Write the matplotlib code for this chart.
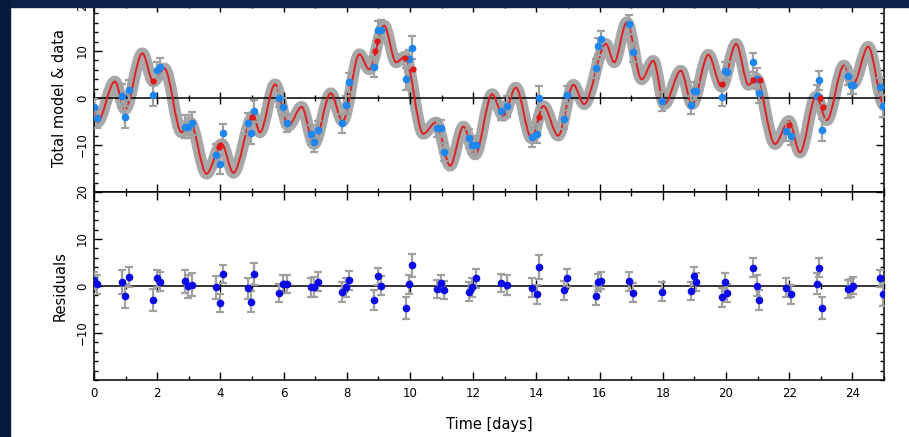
import matplotlib
matplotlib.use("Agg")
import matplotlib.pyplot as plt
from matplotlib.path import Path
from matplotlib.patches import PathPatch, Rectangle
from matplotlib.ticker import MultipleLocator

# model curve, read at its turning points (day, value)
model_t = [0.0, 0.1, 0.66, 0.98, 1.53, 1.88, 2.23, 2.77, 3.04, 3.56, 4.04, 4.41, 5.04, 5.25,
           5.73, 6.15, 6.57, 6.96, 7.49, 7.87, 8.4, 8.71, 9.18, 9.56, 9.84, 10.42, 10.82,
           11.27, 11.69, 12.06, 12.6, 12.95, 13.35, 13.85, 14.22, 14.69, 15.17, 15.51,
           16.2, 16.46, 16.86, 17.33, 17.7, 18.05, 18.57, 18.93, 19.44, 19.86, 20.32, 20.71,
           20.95, 21.55, 21.99, 22.34, 22.85, 23.19, 23.73, 24.03, 24.5, 25.0]
model_v = [-3.0, -5.2, 3.5, -2.4, 9.5, 3.5, 6.3, -7.3, -5.2, -16.1, -9.8, -15.9, -3.8, -7.3,
           2.9, -5.9, -1.9, -9.8, 1.0, -4.9, 9.3, 6.1, 15.4, 7.6, 8.8, -7.6, -5.2,
           -14.4, -6.1, -12.0, 0.8, -3.8, 2.2, -8.6, -1.7, -8.0, 2.8, -1.3,
           11.5, 7.6, 16.1, 4.0, 7.9, -1.3, 5.8, -1.3, 9.2, 2.4, 11.5, 2.8,
           4.2, -9.8, -4.9, -11.6, 0.3, -4.7, 6.9, 3.1, 10.9, -1.5]

# model evaluated at some of the observation times (red dots)
red_t = [1.87, 3.97, 4.0, 4.99, 8.89, 8.97, 9.84, 10.08, 14.09, 19.86, 20.84, 21.08, 22.0, 22.97, 23.06]
red_v = [3.7, -10.5, -9.9, -4.0, 9.9, 12.2, 8.6, 6.1, -4.1, 2.9, 3.8, 3.8, -5.7, 0.0, -2.0]

# observations
obs_t = [0.0, 0.08, 0.88, 0.98, 1.11, 1.86, 1.98, 2.09, 2.87, 2.99, 3.09, 3.85, 3.99, 4.07,
         4.88, 4.97, 5.07, 5.86, 5.97, 6.1, 6.86, 6.96, 7.09, 7.86, 7.96, 8.07, 8.86, 8.98,
         9.08, 9.86, 9.97, 10.07, 10.86, 10.97, 11.09, 11.87, 11.97, 12.08, 12.87, 13.08,
         13.87, 14.01, 14.08, 14.87, 14.96, 15.89, 15.96, 16.04, 16.94, 17.05, 17.96, 18.89,
         18.99, 19.05, 19.88, 19.97, 20.04, 20.86, 20.97, 21.04, 21.89, 22.05, 22.87, 22.95,
         23.03, 23.87, 23.96, 24.03, 24.87, 24.96]
obs_v = [-2.0, -4.3, 0.5, -4.0, 1.7, 0.6, 5.9, 6.5, -6.1, -6.1, -5.4, -12.2, -14.1, -7.4,
         -5.4, -7.4, -2.7, 0.1, -1.9, -5.4, -7.7, -9.3, -6.8, -5.4, -1.5, 3.3, 6.6, 14.5,
         14.5, 4.0, 8.3, 10.7, -6.4, -6.4, -11.4, -8.6, -10.0, -10.0, -2.7, -1.8,
         -8.4, -7.6, 0.0, -4.5, 0.6, 6.3, 11.0, 12.5, 15.7, 9.7, -0.7, -1.5,
         1.5, 1.4, 0.2, 5.8, 5.6, 7.6, 4.1, 1.0, -7.1, -8.0, 0.5, 3.8,
         -6.8, 4.7, 2.8, 2.8, 2.4, -1.7]
resid = [1.2, 0.4, 0.8, -2.2, 1.9, -3.0, 1.6, 0.9, 1.0, -0.1, 0.3, -0.3, -3.6, 2.6,
         -0.5, -3.3, 2.5, -1.5, 0.4, 0.4, -0.3, -0.2, 0.9, -1.2, -0.3, 1.2, -3.0, 2.1,
         0.1, -4.7, 0.4, 4.4, -0.7, 0.6, -0.9, -1.2, -0.3, 1.6, 0.6, 0.2,
         -0.4, -1.8, 4.0, -0.9, 1.7, -2.1, 0.8, 1.1, 1.0, -1.4, -1.2, -1.1,
         2.1, 0.9, -2.4, 0.9, -1.5, 3.9, 0.1, -2.9, -0.4, -1.8, 0.5, 3.9,
         -4.7, -0.6, -0.4, 0.1, 1.6, -1.8]
err = [1.8, 2.0, 2.5, 2.4, 2.1, 2.4, 1.8, 2.0, 2.5, 2.4, 2.4, 2.4, 2.0, 1.9,
       2.2, 2.3, 2.3, 2.0, 1.9, 1.9, 2.0, 2.1, 2.0, 2.1, 2.0, 2.0, 2.2, 1.8,
       2.0, 2.4, 2.0, 2.4, 1.9, 1.8, 1.9, 2.0, 2.0, 2.0, 1.9, 2.2,
       2.0, 2.0, 2.6, 2.0, 1.9, 2.0, 1.8, 1.8, 2.0, 2.0, 2.0, 1.9,
       1.9, 1.9, 2.0, 1.9, 2.0, 2.0, 2.2, 2.1, 2.0, 2.0, 2.3, 2.0,
       2.4, 1.9, 1.9, 1.9, 1.8, 2.4]

xticks = list(range(0, 25, 2))

W, H = 909, 437
fig = plt.figure(figsize=(W / 100, H / 100), dpi=100)
fig.patch.set_facecolor("white")
plt.rcParams["font.family"] = "DejaVu Sans"

ax1 = fig.add_axes([94 / W, 1 - 192 / H, 790 / W, 188 / H])
ax2 = fig.add_axes([94 / W, 1 - 380 / H, 790 / W, 188 / H])


def smooth_path(t, v):
    # cubic pieces with flat tangents at each turning point
    verts = [(t[0], v[0])]
    codes = [Path.MOVETO]
    for i in range(len(t) - 1):
        dt = t[i + 1] - t[i]
        verts += [(t[i] + dt / 3, v[i]), (t[i + 1] - dt / 3, v[i + 1]), (t[i + 1], v[i + 1])]
        codes += [Path.CURVE4] * 3
    return Path(verts, codes)


ax1.add_patch(PathPatch(smooth_path(model_t, model_v), fill=False, edgecolor="#a8a8a8",
                        lw=8.5, capstyle="round", joinstyle="round", zorder=2))
ax1.add_patch(PathPatch(smooth_path(model_t, model_v), fill=False, edgecolor="#e02020",
                        lw=1.4, zorder=4))
ax1.errorbar(obs_t, obs_v, yerr=err, fmt="o", color="#1f86f0", ms=4.5, mec="#1f86f0",
             ecolor="#a0a0a0", elinewidth=1.6, capsize=3, capthick=1.6, zorder=5)
ax1.plot(red_t, red_v, "o", color="#e01818", ms=3.5, zorder=6)

ax2.errorbar(obs_t, resid, yerr=err, fmt="o", color="#0a0ae8", ms=4.5, mec="#0a0ae8",
             ecolor="#a0a0a0", elinewidth=1.6, capsize=3, capthick=1.6, zorder=5)

for ax in (ax1, ax2):
    ax.set_xlim(0, 25)
    ax.set_ylim(-20, 20)
    ax.set_xticks(xticks)
    ax.xaxis.set_minor_locator(MultipleLocator(1))
    ax.set_yticks([-10, 0, 10, 20])
    ax.yaxis.set_minor_locator(MultipleLocator(2))
    ax.tick_params(which="both", direction="in", top=True, right=True, width=1.0,
                   labelsize=8.5, colors="black")
    ax.tick_params(which="major", length=6)
    ax.tick_params(which="minor", length=3)
    for lab in ax.get_yticklabels():
        lab.set_rotation(90)
        lab.set_va("center")
    for s in ax.spines.values():
        s.set_linewidth(1.1)
    # zero line with ticks crossing it
    zero = ax.secondary_xaxis(0.5)
    zero.set_xticks(xticks)
    zero.xaxis.set_minor_locator(MultipleLocator(1))
    zero.tick_params(which="both", direction="inout", labeltop=False, labelbottom=False, width=1.0)
    zero.tick_params(which="major", length=9)
    zero.tick_params(which="minor", length=5)
    zero.spines[:].set_linewidth(1.1)
    zero.set_zorder(3)

ax1.tick_params(labelbottom=False)
ax1.set_ylabel("Total model & data", fontsize=10.5)
ax1.yaxis.set_label_coords(-0.034, 0.5)
ax2.set_ylabel("Residuals", fontsize=10.5)
ax2.yaxis.set_label_coords(-0.034, 0.5)
ax2.set_xlabel("Time [days]", fontsize=10.5)
ax2.xaxis.set_label_coords(0.5, -0.195)
ax2.tick_params(axis="x", pad=5)

# slide background around the cropped plot
fig.add_artist(Rectangle((0, 1 - 7 / H), 1, 7 / H, transform=fig.transFigure,
                         color="#0b2148", zorder=20))
fig.add_artist(Rectangle((0, 0), 10 / W, 1, transform=fig.transFigure,
                         color="#071a3b", zorder=20))

fig.savefig("out.png", dpi=100)
